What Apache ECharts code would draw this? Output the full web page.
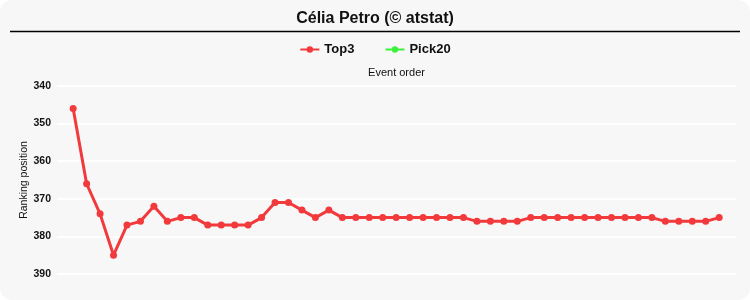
<!DOCTYPE html>
<html>
<head>
<meta charset="utf-8">
<script src="https://cdn.jsdelivr.net/npm/echarts@6/dist/echarts.min.js"></script>
<style>
html,body{margin:0;padding:0;background:#ffffff;}
#chart{width:750px;height:300px;background:#f7f7f7;border-radius:12px;overflow:hidden;}
</style>
</head>
<body>
<div id="chart"></div>
<script>
const titleText = 'Célia Petro (© atstat)';
const seriesNames = ['Top3', 'Pick20'];
const eventOrder = [1,2,3,4,5,6,7,8,9,10,11,12,13,14,15,16,17,18,19,20,21,22,23,24,25,26,27,28,29,30,31,32,33,34,35,36,37,38,39,40,41,42,43,44,45,46,47,48,49];
const top3 = [346,366,374,385,377,376,372,376,375,375,377,377,377,377,375,371,371,373,375,373,375,375,375,375,375,375,375,375,375,375,376,376,376,376,375,375,375,375,375,375,375,375,375,375,376,376,376,376,375];
const pick20 = [];
const yTicks = [340, 350, 360, 370, 380, 390];

const chart = echarts.init(document.getElementById('chart'), null, {renderer: 'canvas'});
const font = 'Arial, "Liberation Sans", sans-serif';
chart.setOption({
  backgroundColor: 'transparent',
  animation: false,
  title: {
    text: titleText, left: 'center', top: 6,
    textStyle: {fontFamily: font, fontSize: 16, fontWeight: 'bold', color: '#111'}
  },
  graphic: [{
    type: 'line', shape: {x1: 10, y1: 31.5, x2: 740, y2: 31.5},
    style: {stroke: '#000', lineWidth: 1.3}
  }],
  legend: {
    top: 38, left: 'center', itemGap: 30, itemWidth: 19, itemHeight: 8,
    textStyle: {fontFamily: font, fontSize: 13, fontWeight: 'bold', color: '#111'},
    data: seriesNames
  },
  grid: {left: 57, right: 14, top: 86, bottom: 26, containLabel: false},
  xAxis: {
    type: 'value', position: 'top', min: -0.2, max: 50.25,
    name: 'Event order', nameLocation: 'middle', nameGap: 8,
    nameTextStyle: {fontFamily: font, fontSize: 11, color: '#111'},
    axisLine: {show: false}, axisTick: {show: false}, axisLabel: {show: false}, splitLine: {show: false}
  },
  yAxis: {
    type: 'value', inverse: true, min: yTicks[0], max: yTicks[yTicks.length - 1], interval: 10,
    name: 'Ranking position', nameLocation: 'middle', nameGap: 27, nameRotate: 90,
    nameMoveOverlap: false,
    nameTextStyle: {fontFamily: font, fontSize: 10.5, color: '#111'},
    axisLine: {show: false}, axisTick: {show: false},
    axisLabel: {fontFamily: font, fontSize: 10.5, fontWeight: 'bold', color: '#111', margin: 6},
    splitLine: {show: true, lineStyle: {color: '#ffffff', width: 2}}
  },
  series: [
    {
      name: seriesNames[0], type: 'line',
      data: eventOrder.map((e, i) => [e, top3[i]]),
      lineStyle: {color: '#f23a3c', width: 3},
      itemStyle: {color: '#f23a3c'},
      symbol: 'circle', symbolSize: 7, showSymbol: true
    },
    {
      name: seriesNames[1], type: 'line',
      data: pick20,
      lineStyle: {color: '#3ef03e', width: 3},
      itemStyle: {color: '#3ef03e'},
      symbol: 'circle', symbolSize: 7
    }
  ]
});
</script>
</body>
</html>
